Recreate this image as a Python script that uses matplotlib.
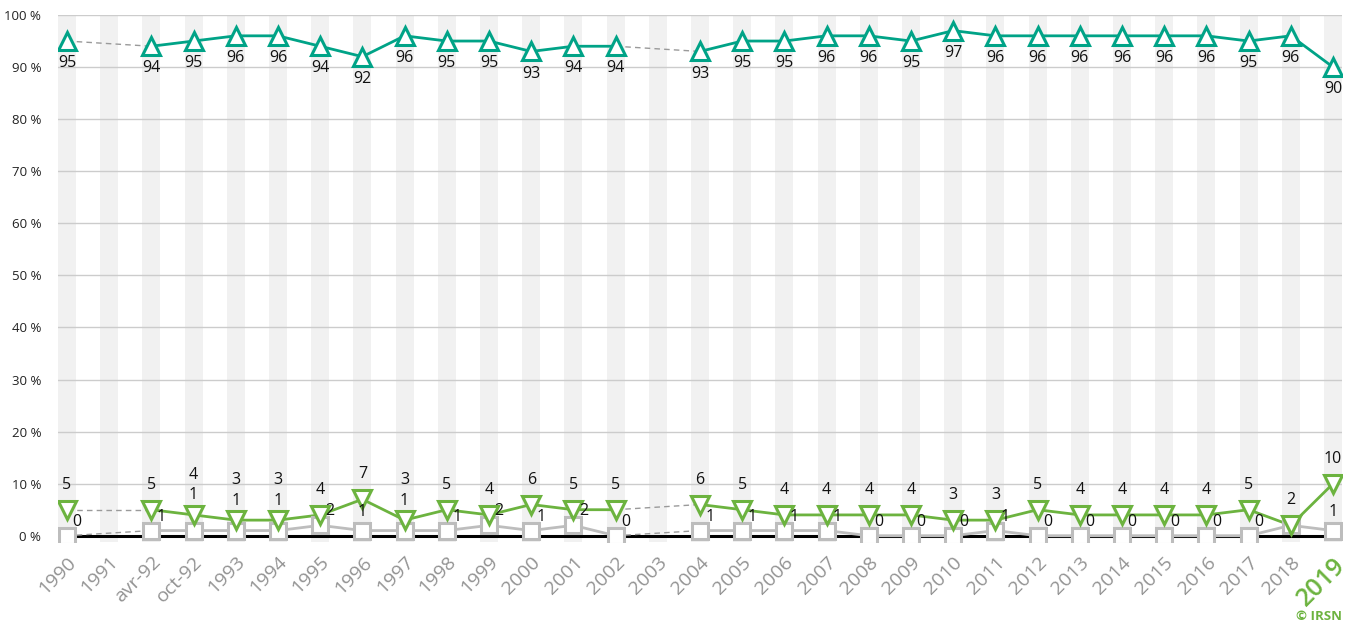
import numpy as np
import matplotlib
matplotlib.use("Agg")
import matplotlib.pyplot as plt

plt.rcParams["font.family"] = ["Open Sans", "DejaVu Sans"]

# ----- data -----
categories = ["1990", "1991", "avr-92", "oct-92", "1993", "1994", "1995", "1996",
              "1997", "1998", "1999", "2000", "2001", "2002", "2003", "2004",
              "2005", "2006", "2007", "2008", "2009", "2010", "2011", "2012",
              "2013", "2014", "2015", "2016", "2017", "2018", "2019"]
nan = np.nan
teal = [95, nan, 94, 95, 96, 96, 94, 92, 96, 95, 95, 93, 94, 94, nan, 93,
        95, 95, 96, 96, 95, 97, 96, 96, 96, 96, 96, 96, 95, 96, 90]
green = [5, nan, 5, 4, 3, 3, 4, 7, 3, 5, 4, 6, 5, 5, nan, 6,
         5, 4, 4, 4, 4, 3, 3, 5, 4, 4, 4, 4, 5, 2, 10]
grey = [0, nan, 1, 1, 1, 1, 2, 1, 1, 1, 2, 1, 2, 0, nan, 1,
        1, 1, 1, 0, 0, 0, 1, 0, 0, 0, 0, 0, 0, 2, 1]
# where the grey label sits: r = right, s = stacked above green, u = up, n = none
grey_lbl = ["r", "n", "r", "s", "s", "s", "r", "u", "s", "r", "r", "r", "r", "r", "n", "r",
            "r", "r", "r", "r", "r", "r", "r", "r", "r", "r", "r", "r", "r", "n", "u"]

C_TEAL = "#00a387"
C_GREEN = "#6cb33f"
C_GREY = "#bdbdbd"
C_DASH = "#9a9a9a"

fig = plt.figure(figsize=(13.55, 6.28), dpi=100)
ax = fig.add_axes([58 / 1355, 1 - 542 / 628, (1342 - 58) / 1355, 527 / 628])
x = np.arange(len(categories))
hw = 0.213
ax.set_xlim(-hw, len(categories) - 1 + hw)
ax.set_ylim(-1.2, 100)

# stripes
for i in x:
    ax.axvspan(i - hw, i + hw, color="#f1f1f1", lw=0, zorder=0)

# grid
for v in range(10, 101, 10):
    ax.axhline(v, color="#cccccc", lw=1, zorder=1)
ax.axhline(0, color="black", lw=2.2, zorder=2)


def draw(vals, color, marker, ms):
    vals = np.array(vals, dtype=float)
    # dashed bridges across missing categories
    valid = np.where(~np.isnan(vals))[0]
    for a, b in zip(valid[:-1], valid[1:]):
        if b - a > 1:
            ax.plot([a, b], [vals[a], vals[b]], ls=(0, (4, 3)), color=C_DASH,
                    lw=1.0, zorder=3)
    ax.plot(x, vals, color=color, lw=2.0, zorder=4)
    ax.plot(x, vals, ls="none", marker=marker, ms=ms, mfc="white", mec=color,
            mew=2.2, zorder=5)


draw(grey, C_GREY, "s", 11.5)
draw(green, C_GREEN, "v", 13.5)
draw(teal, C_TEAL, "^", 13.5)

lbl = dict(fontsize=11.5, color="#111111", zorder=6)
for i in x:
    if not np.isnan(teal[i]):
        ax.annotate(f"{teal[i]:.0f}", (i, teal[i]), xytext=(0, -16),
                    textcoords="offset points", ha="center", va="center", **lbl)
    if np.isnan(green[i]):
        continue
    mode = grey_lbl[i]
    if mode == "s":
        ax.annotate(f"{grey[i]:.0f}", (i, green[i]), xytext=(0, 14),
                    textcoords="offset points", ha="center", va="center", **lbl)
        ax.annotate(f"{green[i]:.0f}", (i, green[i]), xytext=(0, 29),
                    textcoords="offset points", ha="center", va="center", **lbl)
    else:
        ax.annotate(f"{green[i]:.0f}", (i, green[i]), xytext=(0, 18),
                    textcoords="offset points", ha="center", va="center", **lbl)
        if mode == "r":
            ax.annotate(f"{grey[i]:.0f}", (i, grey[i]), xytext=(4, 10),
                        textcoords="offset points", ha="left", va="center", **lbl)
        elif mode == "u":
            ax.annotate(f"{grey[i]:.0f}", (i, grey[i]), xytext=(0, 13),
                        textcoords="offset points", ha="center", va="center", **lbl)

# axes styling
for s in ax.spines.values():
    s.set_visible(False)
ax.set_yticks(range(0, 101, 10))
ax.set_yticklabels([f"{v} %" for v in range(0, 101, 10)], fontsize=9.5, color="#222222")
ax.tick_params(axis="y", length=0, pad=12)
ax.set_xticks(x)
ax.set_xticklabels(categories, rotation=45, ha="right", va="top",
                   rotation_mode="anchor", fontsize=14, color="#939393")
ax.tick_params(axis="x", length=0, pad=8)
last = ax.get_xticklabels()[-1]
last.set_color(C_GREEN)
last.set_fontsize(18)
last.set_fontweight("semibold")

fig.text(1342 / 1355, 1 - 616 / 628, "© IRSN", ha="right", va="center",
         fontsize=9.5, color=C_GREEN, fontweight="bold")

fig.savefig("out.png", dpi=100)
